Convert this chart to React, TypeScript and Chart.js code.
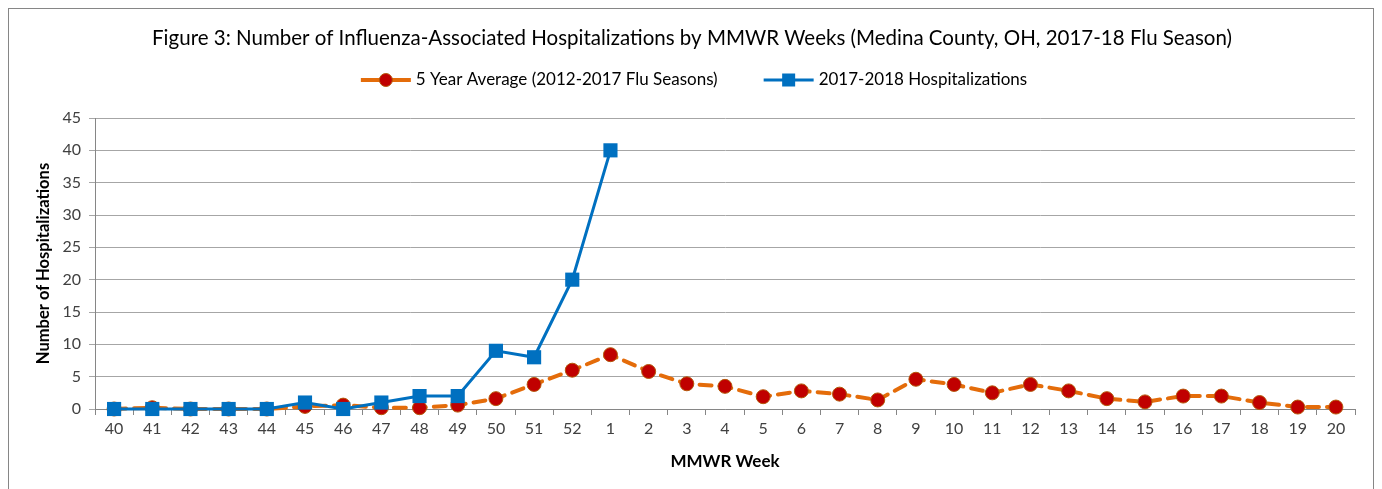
import React, { useEffect, useRef } from "react";
import { Chart, registerables } from "chart.js";

Chart.register(...registerables);

const weeks: string[] = [
  "40", "41", "42", "43", "44", "45", "46", "47", "48", "49", "50", "51", "52",
  "1", "2", "3", "4", "5", "6", "7", "8", "9", "10", "11", "12", "13", "14", "15", "16", "17", "18", "19", "20",
];

const fiveYearAverage: number[] = [
  0, 0.2, 0, 0, 0, 0.4, 0.6, 0.2, 0.2, 0.6, 1.6, 3.8, 6, 8.4,
  5.8, 3.9, 3.5, 1.9, 2.8, 2.3, 1.4, 4.6, 3.8, 2.5, 3.8, 2.8, 1.6, 1.1, 2, 2, 1, 0.3, 0.3,
];

const hosp2017: (number | null)[] = [
  0, 0, 0, 0, 0, 1, 0, 1, 2, 2, 9, 8, 20, 40,
  null, null, null, null, null, null, null, null, null, null, null, null, null, null, null, null, null, null, null,
];

const seriesNames: string[] = ["5 Year Average (2012-2017 Flu Seasons)", "2017-2018 Hospitalizations"];
const titleText = "Figure 3: Number of Influenza-Associated Hospitalizations by MMWR Weeks (Medina County, OH, 2017-18 Flu Season)";

const ORANGE = "#E46C0A";
const RED = "#C00000";
const MARKER_EDGE = "#B4580A";
const BLUE = "#0070C0";
const FONT = "Lato";

const legendPlugin = {
  id: "customLegend",
  afterDraw(chart: any) {
    const ctx: CanvasRenderingContext2D = chart.ctx;
    ctx.save();
    ctx.font = `17px ${FONT}`;
    const y = 71;
    const lineLen = 50;
    const textGap = 5;
    const itemGap = 46;
    const w0 = ctx.measureText(seriesNames[0]).width;
    const w1 = ctx.measureText(seriesNames[1]).width;
    const total = lineLen + textGap + w0 + itemGap + lineLen + textGap + w1;
    let x = chart.width / 2 - total / 2 + 3;
    // item 1
    ctx.lineCap = "butt";
    ctx.strokeStyle = ORANGE;
    ctx.lineWidth = 4;
    ctx.beginPath();
    ctx.moveTo(x, y);
    ctx.lineTo(x + lineLen, y);
    ctx.stroke();
    ctx.fillStyle = RED;
    ctx.strokeStyle = MARKER_EDGE;
    ctx.lineWidth = 1;
    ctx.beginPath();
    ctx.arc(x + lineLen / 2, y, 6.5, 0, Math.PI * 2);
    ctx.fill();
    ctx.stroke();
    x += lineLen + textGap;
    ctx.fillStyle = "#000";
    ctx.textBaseline = "middle";
    ctx.textAlign = "left";
    ctx.fillText(seriesNames[0], x, y);
    x += w0 + itemGap;
    // item 2
    ctx.strokeStyle = BLUE;
    ctx.lineWidth = 3;
    ctx.beginPath();
    ctx.moveTo(x, y);
    ctx.lineTo(x + lineLen, y);
    ctx.stroke();
    ctx.fillStyle = BLUE;
    ctx.fillRect(x + lineLen / 2 - 6.5, y - 6.5, 13, 13);
    x += lineLen + textGap;
    ctx.fillStyle = "#000";
    ctx.fillText(seriesNames[1], x, y);
    ctx.restore();
  },
};

export default function App() {
  const ref = useRef<HTMLCanvasElement | null>(null);
  useEffect(() => {
    if (!ref.current) return;
    const chart = new Chart(ref.current, {
      type: "line",
      data: {
        labels: weeks,
        datasets: [
          {
            label: seriesNames[0],
            data: fiveYearAverage,
            borderColor: ORANGE,
            borderWidth: 4,
            borderDash: [12, 8],
            borderCapStyle: "round",
            pointStyle: "circle",
            pointRadius: 7,
            pointBackgroundColor: RED,
            pointBorderColor: MARKER_EDGE,
            pointBorderWidth: 1,
            tension: 0,
            clip: false,
            order: 1,
          },
          {
            label: seriesNames[1],
            data: hosp2017,
            borderColor: BLUE,
            borderWidth: 3,
            pointStyle: "rect",
            pointRadius: 10,
            pointBackgroundColor: BLUE,
            pointBorderColor: BLUE,
            pointBorderWidth: 0,
            tension: 0,
            spanGaps: false,
            clip: false,
            order: 0,
          },
        ],
      },
      options: {
        animation: false,
        responsive: false,
        maintainAspectRatio: false,
        layout: { padding: { left: 20, right: 18, top: 0, bottom: 14 } },
        plugins: {
          tooltip: { enabled: false },
          legend: { display: false },
          title: {
            display: true,
            text: titleText,
            color: "#000",
            font: { family: FONT, size: 20.5, weight: "normal" },
            padding: { top: 16.7, bottom: 67.7 },
          },
        },
        scales: {
          x: {
            offset: true,
            grid: {
              display: true,
              drawOnChartArea: false,
              drawTicks: true,
              tickLength: 6,
              offset: true,
              color: "#868686",
            },
            border: { display: true, color: "#868686", width: 1 },
            ticks: {
              color: "#404040",
              font: { family: FONT, size: 16 },
              autoSkip: false,
              maxRotation: 0,
              padding: 4,
            },
            title: {
              display: true,
              text: "MMWR Week",
              color: "#000",
              font: { family: FONT, size: 17, weight: "bold" },
              padding: { top: 4, bottom: 3 },
            },
            afterFit: (scale: any) => {
              scale.height = 66;
            },
          },
          y: {
            min: 0,
            max: 45,
            ticks: {
              stepSize: 5,
              color: "#404040",
              font: { family: FONT, size: 16 },
              padding: 8,
            },
            grid: {
              display: true,
              drawOnChartArea: true,
              drawTicks: true,
              tickLength: 6,
              color: "#A6A6A6",
            },
            border: { display: true, color: "#868686", width: 1 },
            title: {
              display: true,
              text: "Number of Hospitalizations",
              color: "#000",
              font: { family: FONT, size: 16.5, weight: "bold" },
              padding: { top: 5, bottom: 0 },
            },
            afterFit: (scale: any) => {
              scale.width = 66;
            },
          },
        },
      },
      plugins: [legendPlugin],
    });
    return () => chart.destroy();
  }, []);
  return (
    <div
      style={{
        width: 1364,
        height: 495,
        border: "1px solid #868686",
        background: "#fff",
        position: "relative",
      }}
    >
      <canvas ref={ref} width={1364} height={480} style={{ display: "block" }} />
    </div>
  );
}
